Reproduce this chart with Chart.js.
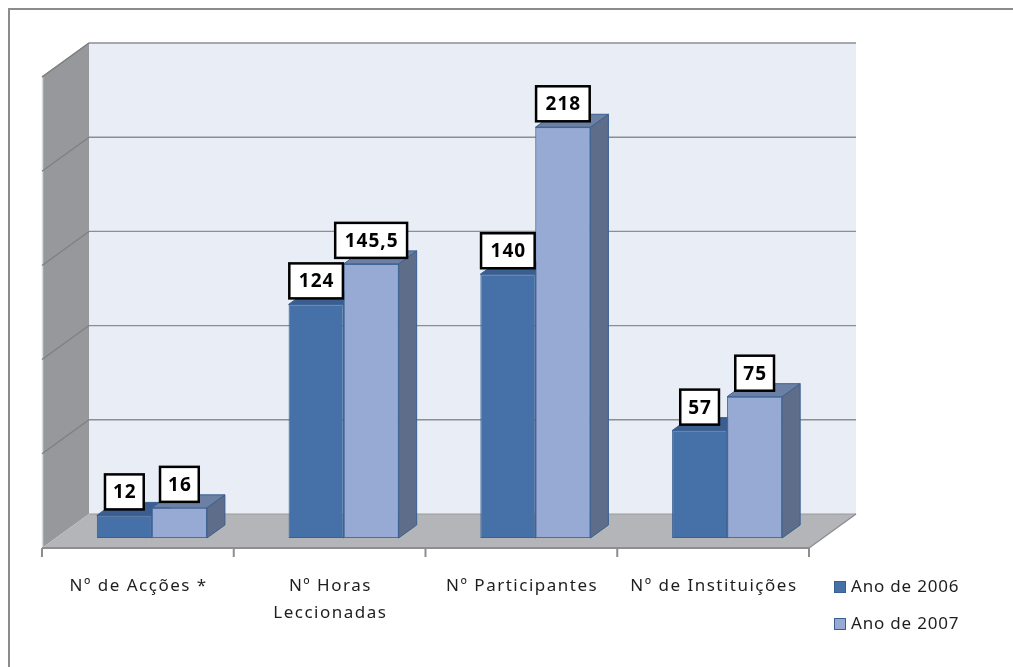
<!DOCTYPE html>
<html><head><meta charset="utf-8">
<script src="https://cdn.jsdelivr.net/npm/chart.js@4"></script>
<style>html,body{margin:0;padding:0;background:#fff;overflow:hidden}#wrap{width:1013px;height:667px;position:relative}</style>
</head><body><div id="wrap"><canvas id="c" width="1013" height="667"></canvas></div>
<script>
const categories = [['Nº de Acções *'], ['Nº Horas', 'Leccionadas'], ['Nº Participantes'], ['Nº de Instituições']];
const seriesNames = ['Ano de 2006', 'Ano de 2007'];
const values2006 = [12, 124, 140, 57];
const values2007 = [16, 145.5, 218, 75];
const yTicks = [0, 50, 100, 150, 200, 250];

const frontColors = ['#4571A8', '#96AAD3'];
const borderColors = ['#3A5F90', '#4C6D9E'];
const topColors = ['#3A5E90', '#6C80A3'];
const sideColors = ['#34547F', '#5E6D89'];
const BACK = {dx: 33, dy: -24}, FRONT = {dx: -14, dy: 10}, DEPTH = {dx: 18, dy: -13};
const FONT = '"Noto Sans", "Liberation Sans", sans-serif';

function fmt(v) { return String(v).replace('.', ','); }
function poly(ctx, pts, fill, stroke, lw) {
  ctx.beginPath();
  ctx.moveTo(pts[0][0], pts[0][1]);
  for (let i = 1; i < pts.length; i++) ctx.lineTo(pts[i][0], pts[i][1]);
  ctx.closePath();
  if (fill) { ctx.fillStyle = fill; ctx.fill(); }
  if (stroke) { ctx.strokeStyle = stroke; ctx.lineWidth = lw || 1; ctx.stroke(); }
}
function line(ctx, x1, y1, x2, y2, color, lw) {
  ctx.beginPath(); ctx.moveTo(x1, y1); ctx.lineTo(x2, y2);
  ctx.strokeStyle = color; ctx.lineWidth = lw; ctx.stroke();
}
function faces(ctx, el, i) {
  const x0 = el.x - el.width / 2, x1 = el.x + el.width / 2, yT = el.y, yB = el.base;
  poly(ctx, [[x1, yT], [x1 + DEPTH.dx, yT + DEPTH.dy], [x1 + DEPTH.dx, yB + DEPTH.dy], [x1, yB]], sideColors[i], borderColors[0], 1);
  poly(ctx, [[x0, yT], [x0 + DEPTH.dx, yT + DEPTH.dy], [x1 + DEPTH.dx, yT + DEPTH.dy], [x1, yT]], topColors[i], borderColors[0], 1);
}

const scene = {
  id: 'scene3d',
  beforeDatasetsDraw(chart) {
    const ctx = chart.ctx, ca = chart.chartArea, ys = chart.scales.y, xs = chart.scales.x;
    const minV = yTicks[0], maxV = yTicks[yTicks.length - 1];
    const bx = ca.left + BACK.dx, bxR = ca.right + BACK.dx;
    const by0 = ys.getPixelForValue(minV) + BACK.dy, byT = ys.getPixelForValue(maxV) + BACK.dy;
    const fx = ca.left + FRONT.dx, fxR = ca.right + FRONT.dx;
    const fy0 = ys.getPixelForValue(minV) + FRONT.dy, fyT = ys.getPixelForValue(maxV) + FRONT.dy;
    const ddy = by0 - fy0;
    ctx.save();
    ctx.strokeStyle = '#8C8C8C'; ctx.lineWidth = 2;
    ctx.strokeRect(9, 9, 1020, 680);
    ctx.fillStyle = '#E9EDF6';
    ctx.fillRect(bx, byT, bxR - bx, by0 - byT);
    poly(ctx, [[fx, fyT], [bx, byT], [bx, by0], [fx, fy0]], '#96989C');
    line(ctx, fx + 0.5, fyT, fx + 0.5, fy0, '#D9DADC', 1.5);
    line(ctx, fx, fyT, bx, byT, '#8A8A8A', 1.2);
    poly(ctx, [[fx, fy0], [fxR, fy0], [bxR, by0], [bx, by0]], '#B3B5B8');
    yTicks.forEach(v => {
      if (v === minV) return;
      const y = ys.getPixelForValue(v) + BACK.dy;
      line(ctx, bx, y, bxR, y, '#8E8E8E', 1.4);
      line(ctx, bx, y, fx, y - ddy, '#7E7F82', 1.2);
    });
    line(ctx, bx, by0, bxR, by0, '#9A9A9A', 1);
    line(ctx, fx, fy0, fxR, fy0, '#8E8E8E', 2);
    line(ctx, fxR, fy0, bxR, by0, '#8E8E8E', 1.4);
    const n = categories.length;
    for (let i = 0; i <= n; i++) {
      const x = fx + i * (fxR - fx) / n;
      line(ctx, x, fy0, x, fy0 + 9, '#8E8E8E', 2);
    }
    ctx.fillStyle = '#1E1E1E';
    ctx.font = '17px ' + FONT;
    ctx.letterSpacing = '1.5px';
    ctx.textAlign = 'center'; ctx.textBaseline = 'middle';
    categories.forEach((lab, i) => {
      const x = xs.getPixelForValue(i) + FRONT.dx;
      lab.forEach((t, k) => ctx.fillText(t, x + 0.75, 586 + k * 27));
    });
    ctx.letterSpacing = '0.8px';
    chart.data.datasets.forEach((ds, i) => {
      const y = 587 + i * 37;
      ctx.fillStyle = ds.backgroundColor;
      ctx.fillRect(834, y - 6, 12, 12);
      ctx.strokeStyle = '#3A5F90'; ctx.lineWidth = 1;
      ctx.strokeRect(834.5, y - 5.5, 11, 11);
      ctx.fillStyle = '#1E1E1E';
      ctx.textAlign = 'left';
      ctx.fillText(ds.label, 851, y);
    });
    ctx.restore();
  },
  afterDatasetsDraw(chart) {
    const ctx = chart.ctx;
    const m0 = chart.getDatasetMeta(0), m1 = chart.getDatasetMeta(1);
    ctx.save();
    // back series faces first, then redraw the front faces of the second series over them
    m0.data.forEach(el => faces(ctx, el, 0));
    m1.data.forEach(el => el.draw(ctx, chart.chartArea));
    m1.data.forEach(el => faces(ctx, el, 1));
    ctx.font = 'bold 19px ' + FONT;
    ctx.letterSpacing = '1px';
    ctx.textAlign = 'center'; ctx.textBaseline = 'middle';
    chart.data.datasets.forEach((ds, i) => {
      chart.getDatasetMeta(i).data.forEach((el, j) => {
        const t = fmt(ds.data[j]);
        const tw = ctx.measureText(t).width;
        const w = tw + 15 + (t.length > 2 ? 3 : 0), h = 35;
        const bottom = el.y - 6;
        ctx.fillStyle = '#FFFFFF';
        ctx.fillRect(el.x - w / 2, bottom - h, w, h);
        ctx.strokeStyle = '#000000'; ctx.lineWidth = 2.5;
        ctx.strokeRect(el.x - w / 2, bottom - h, w, h);
        ctx.fillStyle = '#000000';
        ctx.fillText(t, el.x + 0.5, bottom - h / 2 + 1);
      });
    });
    ctx.restore();
  }
};

new Chart(document.getElementById('c'), {
  type: 'bar',
  data: {
    labels: categories,
    datasets: [
      {label: seriesNames[0], data: values2006, backgroundColor: frontColors[0], borderColor: borderColors[0], borderWidth: 1, borderSkipped: false},
      {label: seriesNames[1], data: values2007, backgroundColor: frontColors[1], borderColor: borderColors[1], borderWidth: 1, borderSkipped: false}
    ]
  },
  options: {
    responsive: false, animation: false, devicePixelRatio: 1,
    layout: {padding: {left: 56, right: 190, top: 67, bottom: 129}},
    datasets: {bar: {barPercentage: 1, categoryPercentage: 0.574}},
    scales: {
      x: {display: false, offset: true},
      y: {display: false, min: yTicks[0], max: yTicks[yTicks.length - 1]}
    },
    plugins: {legend: {display: false}, tooltip: {enabled: false}}
  },
  plugins: [scene]
});
</script>
</body></html>
